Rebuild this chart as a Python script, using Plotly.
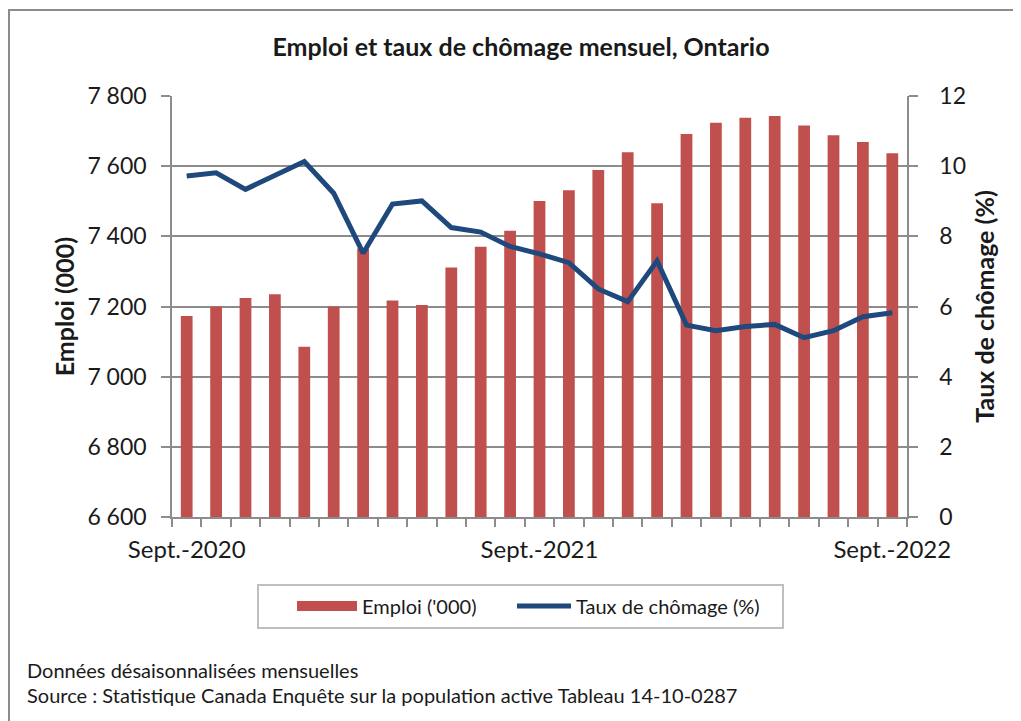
import plotly.graph_objects as go

# ---- data ----
months = [
    "Sept.-2020", "Oct.-2020", "Nov.-2020", "Déc.-2020", "Janv.-2021", "Févr.-2021",
    "Mars-2021", "Avr.-2021", "Mai-2021", "Juin-2021", "Juil.-2021", "Août-2021",
    "Sept.-2021", "Oct.-2021", "Nov.-2021", "Déc.-2021", "Janv.-2022", "Févr.-2022",
    "Mars-2022", "Avr.-2022", "Mai-2022", "Juin-2022", "Juil.-2022", "Août-2022",
    "Sept.-2022",
]
emploi = [7173, 7200, 7224, 7235, 7085, 7200, 7365, 7217, 7204, 7311, 7370, 7416,
          7501, 7531, 7589, 7640, 7494, 7692, 7724, 7738, 7743, 7716, 7688, 7669, 7637]
taux = [9.72, 9.81, 9.34, 9.74, 10.13, 9.23, 7.52, 8.92, 9.01, 8.25, 8.12, 7.71,
        7.50, 7.25, 6.50, 6.14, 7.30, 5.47, 5.31, 5.43, 5.49, 5.11, 5.31, 5.71, 5.82]
shown_ticks = ["Sept.-2020", "Sept.-2021", "Sept.-2022"]

title_text = "Emploi et taux de chômage mensuel, Ontario"
y1_title = "Emploi (000)"
y2_title = "Taux de chômage (%)"
bar_name = "Emploi ('000)"
line_name = "Taux de chômage (%)"
note1 = "Données désaisonnalisées mensuelles"
note2 = "Source : Statistique Canada Enquête sur la population active Tableau 14-10-0287"

# ---- style ----
FONT = "Lato"
RED = "#C0504D"
BLUE = "#1F497D"
GRID = "#8C8C8C"
TXT = "#1a1a1a"

OFF = 8  # page body margin
W, H = 1021, 721
L, R, T, B = 164, 122, 88, 212
pw, ph = W - L - R, H - T - B

def px_x(sx):
    return (sx - OFF - L) / pw

def px_y(sy):
    return (H - B - (sy - OFF)) / ph

fig = go.Figure()
fig.add_trace(go.Bar(
    x=months, y=emploi, name=bar_name, marker=dict(color=RED, line=dict(width=0)),
    width=0.4, showlegend=False, yaxis="y",
))
# legend proxy for the bar series (wide swatch as in the original)
fig.add_trace(go.Scatter(
    x=[None], y=[None], mode="lines", name=bar_name,
    line=dict(color=RED, width=10), yaxis="y", hoverinfo="skip", legend="legend",
))
fig.add_trace(go.Scatter(
    x=months, y=taux, name=line_name, mode="lines",
    line=dict(color=BLUE, width=5), yaxis="y2", legend="legend2",
))

ticktext = [m if m in shown_ticks else "" for m in months]

legend_common = dict(
    orientation="h", yanchor="middle", borderwidth=0,
    font=dict(size=20, color=TXT), bgcolor="rgba(0,0,0,0)",
)

fig.update_layout(
    width=W, height=H,
    margin=dict(l=L, r=R, t=T, b=B, autoexpand=False),
    paper_bgcolor="white", plot_bgcolor="white",
    font=dict(family=FONT, color=TXT, size=20),
    separators=", ",
    title=dict(text=f"<b>{title_text}</b>", x=px_x(521), xref="paper", xanchor="center",
               y=1 - (47 - OFF) / H, yanchor="middle", font=dict(size=25, color=TXT)),
    xaxis=dict(
        type="category", tickson="boundaries", tickvals=months, ticktext=ticktext,
        ticks="outside", ticklen=8, tickwidth=1.5, tickcolor=GRID,
        showline=True, linecolor=GRID, linewidth=1.5, showgrid=False,
        tickfont=dict(size=24, color=TXT), ticklabelstandoff=10,
        range=[-0.5, len(months) - 0.5], tickangle=0,
    ),
    yaxis=dict(
        range=[6600, 7800], dtick=200, tick0=6600, tickformat=",d",
        showgrid=True, gridcolor=GRID, gridwidth=1.5,
        showline=True, linecolor=GRID, linewidth=1.5,
        ticks="outside", ticklen=9, tickwidth=1.5, tickcolor=GRID,
        tickfont=dict(size=23, color=TXT), ticklabelstandoff=10,
        zeroline=False,
        title=dict(text=f"<b>{y1_title}</b>", font=dict(size=25, color=TXT), standoff=6),
    ),
    yaxis2=dict(
        range=[0, 12], dtick=2, tick0=0, overlaying="y", side="right",
        showgrid=False, zeroline=False,
        showline=True, linecolor=GRID, linewidth=1.5,
        ticks="outside", ticklen=9, tickwidth=1.5, tickcolor=GRID,
        tickfont=dict(size=23, color=TXT), ticklabelstandoff=17,
        title=dict(text=f"<b>{y2_title}</b>", font=dict(size=25, color=TXT), standoff=11),
    ),
    legend=dict(x=px_x(292), xanchor="left", y=px_y(606), itemwidth=60, **legend_common),
    legend2=dict(x=px_x(512), xanchor="left", y=px_y(606), itemwidth=54, **legend_common),
    bargap=0.6,
    showlegend=True,
)

# legend frame
fig.add_shape(type="rect", xref="paper", yref="paper",
              x0=px_x(258), x1=px_x(783), y0=px_y(628), y1=px_y(585),
              line=dict(color="#BFBFBF", width=2), fillcolor="rgba(0,0,0,0)", layer="above")

# footnotes
fig.add_annotation(text=note1, xref="paper", yref="paper", x=px_x(25), y=px_y(670),
                   xanchor="left", yanchor="middle", showarrow=False,
                   font=dict(size=20, color=TXT))
fig.add_annotation(text=note2, xref="paper", yref="paper", x=px_x(25), y=px_y(695),
                   xanchor="left", yanchor="middle", showarrow=False,
                   font=dict(size=20, color=TXT))

# outer chart frame (left and top edges visible, rest cropped)
fig.add_shape(type="rect", xref="paper", yref="paper",
              x0=px_x(9), x1=px_x(W + 40), y0=px_y(H + 40), y1=px_y(10),
              line=dict(color="#8C8C8C", width=2), fillcolor="rgba(0,0,0,0)", layer="below")

fig.write_html("out.html")
